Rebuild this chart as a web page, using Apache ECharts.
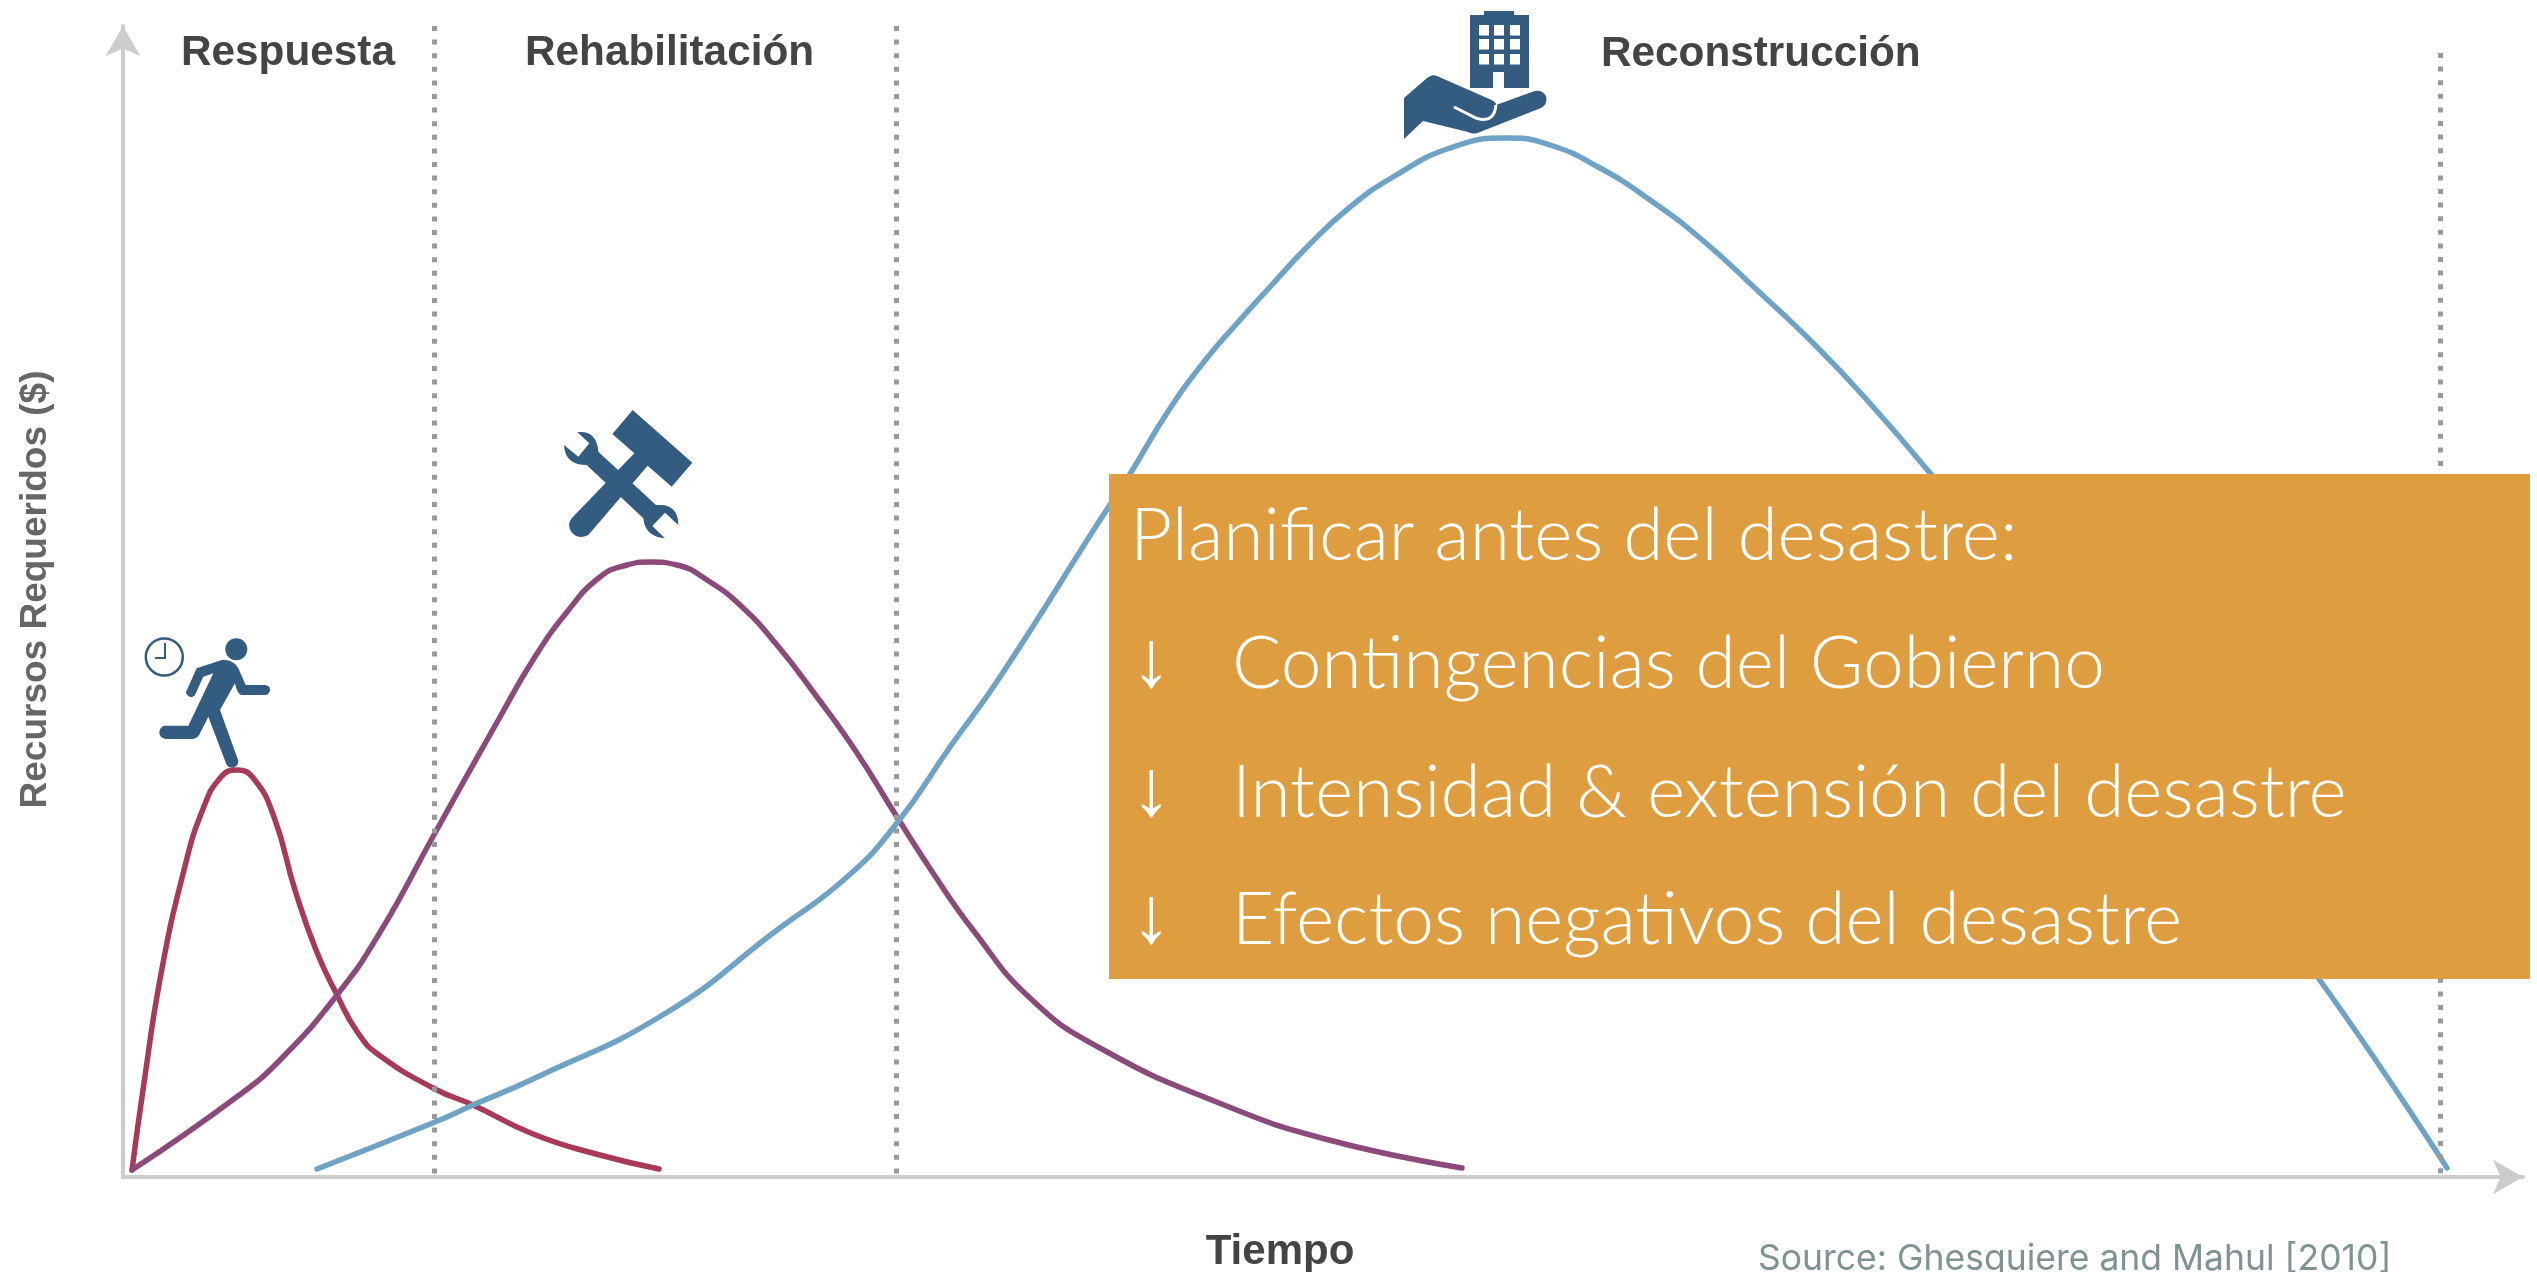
<!DOCTYPE html>
<html><head><meta charset="utf-8">
<style>html,body{margin:0;padding:0;background:#fff}#c{width:2537px;height:1272px}</style>
<script src="https://cdn.jsdelivr.net/npm/echarts@6/dist/echarts.min.js"></script>
</head><body><div id="c"></div>
<script>
const respuesta = [[9,7],[21,94],[38,203],[61,307],[80,368],[98,400],[114,407],[131,398],[151,360],[172,287],[193,227],[214,182],[235,144],[256,122],[312,88],[350,72],[410,43],[473,23],[536,8]];
const rehabilitacion = [[9,7],[115,81],[158,118],[214,182],[256,243],[312,344],[377,460],[410,517],[444,565],[477,600],[504,612],[527,615],[554,612],[584,597],[617,572],[654,532],[694,480],[734,424],[774,360],[810,304],[850,247],[908,178],[977,129],[1096,74],[1206,37],[1339,9]];
const reconstruccion = [[194,8],[312,55],[350,72],[410,98],[543,164],[654,247],[724,300],[774,354],[827,430],[877,500],[977,657],[1007,703],[1044,764],[1080,814],[1117,857],[1147,890],[1184,930],[1227,970],[1270,1000],[1327,1029],[1384,1039],[1427,1032],[1477,1009],[1527,977],[1577,939],[1634,887],[1694,830],[1744,777],[1807,704],[1877,617],[1977,487],[2077,352],[2196,198],[2324,9]];
const phaseBoundaries = [[311,1151],[773,1151],[2317,1124]];
const phaseNames = ['Respuesta','Rehabilitación','Reconstrucción'];
const boxLines = ['Planificar antes del desastre:','Contingencias del Gobierno','Intensidad & extensión del desastre','Efectos negativos del desastre'];
const axisNames = {x:'Tiempo', y:'Recursos Requeridos ($)'};
const sourceText = 'Source: Ghesquiere and Mahul [2010]';

const INK='#345C80', AX='#cccccc';
const Z=100;
function flat(d,ox,oy,sx,sy){
  ox=ox||0;oy=oy||0;sx=sx||1;sy=sy||sx;
  const t=d.match(/[MLQZ]|-?[\d.]+/g);let i=0,pts=[],cx=0,cy=0;
  const T=(x,y)=>[ox+x*sx,oy+y*sy];
  while(i<t.length){const c=t[i++];
    if(c==='M'||c==='L'){cx=+t[i++];cy=+t[i++];pts.push(T(cx,cy));}
    else if(c==='Q'){const x1=+t[i++],y1=+t[i++],x2=+t[i++],y2=+t[i++];
      for(let k=1;k<=10;k++){const u=k/10,v=1-u;pts.push(T(v*v*cx+2*u*v*x1+u*u*x2,v*v*cy+2*u*v*y1+u*u*y2));}
      cx=x2;cy=y2;}
  }
  return pts;
}
const poly=(d,ox,oy,sx,sy)=>({type:'polygon',z:Z,shape:{points:flat(d,ox,oy,sx,sy)},style:{fill:INK}});
const txt=(text,x,base,font,size,k,fill)=>({type:'text',z:Z+2,x,y:base-k*size,style:{text,font:font(size),fill,textAlign:'left',verticalAlign:'top'}});
const boldF=s=>`bold ${s}px "Liberation Sans",Arial,sans-serif`;
const lightF=s=>`300 ${s}px Lato,"Open Sans",sans-serif`;
const arrowF=s=>`${s}px "Liberation Sans",sans-serif`;
const srcF=s=>`400 ${s}px Inter,sans-serif`;

const graphicEls = [
  txt(phaseNames[0],181,67,boldF,42.3,0.81,'#444'),
  txt(phaseNames[1],525,67,boldF,42.3,0.81,'#444'),
  txt(phaseNames[2],1601,68,boldF,42.3,0.81,'#444'),
  txt(sourceText,1758,1272,srcF,35.5,0.85,'#7f9395'),
  {type:'rect',z:Z,shape:{x:1109,y:474,width:1421,height:505},style:{fill:'#DE9D3F'}},
  txt(boxLines[0],1130,558,lightF,73,0.80,'#fff'),
  txt('↓',1131,689,arrowF,80,0.81,'#fff'), txt(boxLines[1],1232,686,lightF,73,0.80,'#fff'),
  txt('↓',1131,818,arrowF,80,0.81,'#fff'), txt(boxLines[2],1232,815,lightF,73,0.80,'#fff'),
  txt('↓',1131,945,arrowF,80,0.81,'#fff'), txt(boxLines[3],1232,942,lightF,73,0.80,'#fff'),
  {type:'circle',z:Z,shape:{cx:236.3,cy:649.3,r:11},style:{fill:INK}},
  {type:'circle',z:Z,shape:{cx:164.3,cy:657,r:18.5},style:{fill:'none',stroke:INK,lineWidth:2.5}},
  {type:'polyline',z:Z,shape:{points:[[165,643],[165,658],[155,658]]},style:{fill:'none',stroke:INK,lineWidth:2}},
  poly('M590 985 L665 960 Q700 958 715 985 L737 1035 L795 1035 Q810 1037 810 1050 Q808 1064 795 1065 L725 1065 Q712 1063 705 1030 L660 1110 L715 1262 Q715 1280 697 1283 Q683 1283 678 1270 L625 1130 L600 1180 Q592 1197 575 1197 L497 1197 Q478 1193 478 1177 Q480 1158 497 1157 L565 1157 L640 1000 L610 1010 L585 1065 Q570 1080 557 1058 Z',0,340,1/3),
  poly('M248 30 L427 188 L365 260 L293 197 L115 405 Q85 420 65 397 Q50 375 65 355 L253 160 L187 102 Z',550,400,1/3),
  poly('M42 135 L85 170 L118 130 L82 97 Q140 90 145 155 L318 315 Q385 310 385 375 L345 338 L307 378 L345 415 Q285 410 280 355 L110 195 Q45 195 42 135 Z',550,400,1/3),
  poly('M1484 11 L1514 11 L1514 15 L1529 15 L1529 88 L1504 88 L1504 72 L1493 72 L1493 88 L1470 88 L1470 15 L1484 15 Z'),
  ...[1479,1494,1510].flatMap(x=>[25,39,54].map(y=>({type:'rect',z:Z+1,shape:{x,y,width:10,height:10.5},style:{fill:'#fff'}}))),
  poly('M1404 98 L1427 78 Q1432 74 1437 76 L1487 98 Q1497 102 1496 105 L1532 92 Q1541 88 1546 96 Q1548 104 1541 108 L1480 132 Q1474 135 1468 132 L1423 121 L1404 139 Z'),
  {type:'polyline',z:Z+1,shape:{points:flat('M1454 107 L1476 118 Q1494 124 1496 105')},style:{fill:'none',stroke:'#fff',lineWidth:3}}
];

const lineSeries=(name,data,color)=>({name,type:'line',data,smooth:0.5,showSymbol:false,symbol:'none',
  lineStyle:{color,width:5.5,cap:'round'},z:3,silent:true,animation:false});

const chart = echarts.init(document.getElementById('c'),null,{renderer:'canvas'});
chart.setOption({
  animation:false,backgroundColor:'#fff',
  grid:{left:123,right:14,top:26,bottom:95,containLabel:false,outerBoundsMode:'none'},
  xAxis:{type:'value',min:0,max:2400,splitLine:{show:false},axisTick:{show:false},axisLabel:{show:false},
    axisLine:{onZero:false,lineStyle:{color:AX,width:4},symbol:['none','arrow'],symbolSize:[26,30]},
    name:axisNames.x,nameLocation:'middle',nameGap:54,
    nameTextStyle:{fontFamily:'Liberation Sans',fontWeight:'bold',fontSize:42,color:'#444',padding:[0,86,0,0]}},
  yAxis:{type:'value',min:0,max:1151,splitLine:{show:false},axisTick:{show:false},axisLabel:{show:false},
    axisLine:{onZero:false,lineStyle:{color:AX,width:4},symbol:['none','arrow'],symbolSize:[26,30]},
    name:axisNames.y,nameLocation:'middle',nameRotate:90,nameGap:69,
    nameTextStyle:{fontFamily:'Liberation Sans',fontWeight:'bold',fontSize:37,color:'#666',padding:[0,0,0,24]}},
  series:[
    lineSeries(phaseNames[0],respuesta,'#A83A58'),
    lineSeries(phaseNames[1],rehabilitacion,'#8C4A7A'),
    lineSeries(phaseNames[2],reconstruccion,'#6FA3C6'),
    {type:'line',data:[],silent:true,markLine:{silent:true,symbol:'none',animation:false,label:{show:false},
      lineStyle:{color:'#999',width:5,type:[5,8.6],cap:'butt'},
      data:phaseBoundaries.map(([x,top])=>[{coord:[x,top]},{coord:[x,0]}])}}
  ],
  graphic:{elements:graphicEls}
});
</script></body></html>
